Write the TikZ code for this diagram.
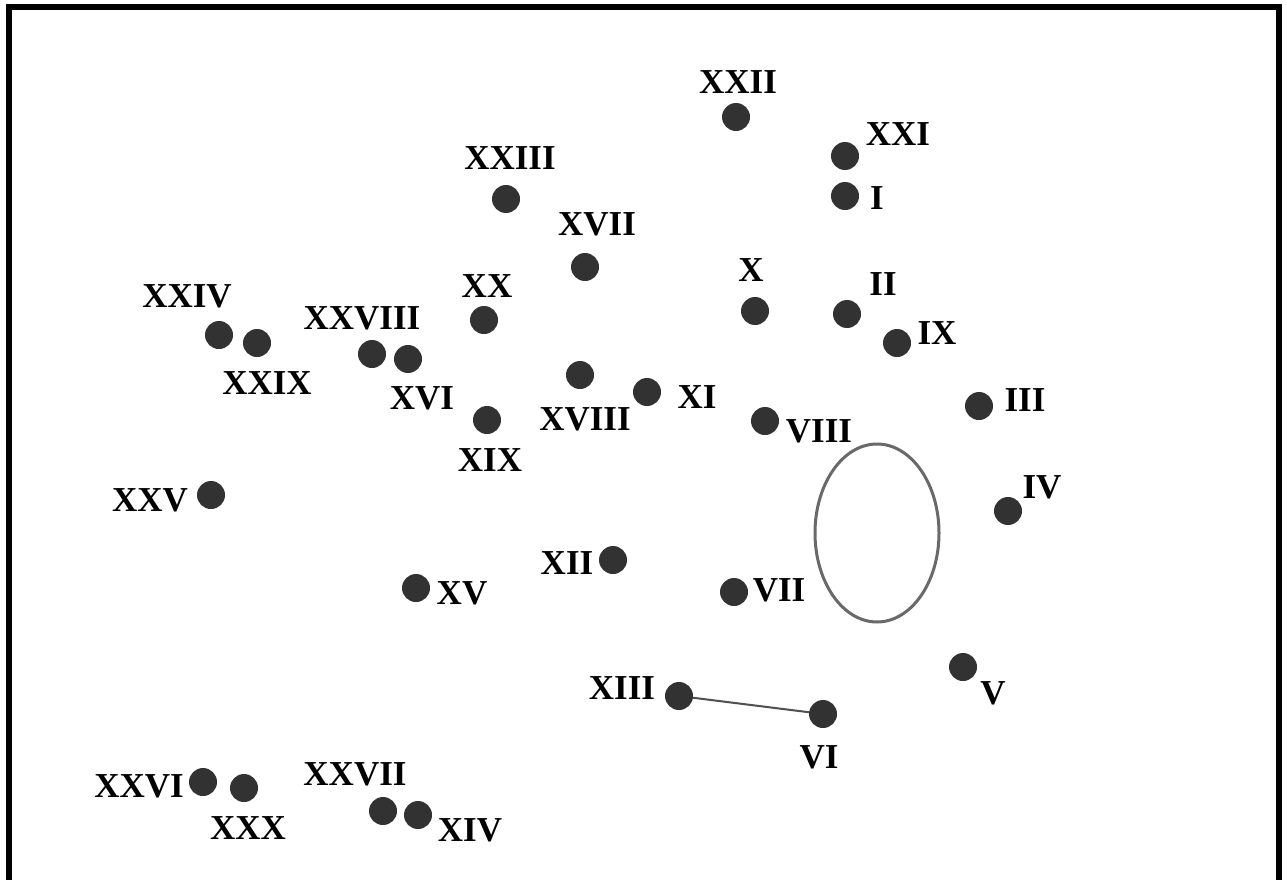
\documentclass[tikz,border=0pt]{standalone}
\usepackage{fontspec}
\setmainfont{Liberation Serif}
\definecolor{dotc}{RGB}{50,50,50}
\definecolor{ellc}{RGB}{105,105,105}
\definecolor{linec}{RGB}{80,80,80}
\tikzset{
  pt/.style={circle,fill=dotc,minimum size=28pt,inner sep=0pt},
  lab/.style={inner sep=0pt,font=\fontsize{35}{40}\selectfont\bfseries},
}
\begin{document}
\begin{tikzpicture}[x=1pt,y=-1pt]
\useasboundingbox (0,0) rectangle (1287,880);
\fill[white] (0,0) rectangle (1287,880);
\draw[line width=6pt,line join=miter] (9,900) -- (9,7.5) -- (1278.5,7.5) -- (1278.5,900);
% dots
\node[pt] (p22) at (736,117) {};
\node[pt] (p21) at (845,156) {};
\node[pt] (p1) at (845,196) {};
\node[pt] (p23) at (506,199) {};
\node[pt] (p17) at (585,267) {};
\node[pt] (p10) at (755,311) {};
\node[pt] (p2) at (847,314) {};
\node[pt] (p9) at (897,343) {};
\node[pt] (p24) at (219,335) {};
\node[pt] (p29) at (257,343) {};
\node[pt] (p28) at (372,354) {};
\node[pt] (p16) at (408,359) {};
\node[pt] (p20) at (484,320) {};
\node[pt] (p18) at (580,375) {};
\node[pt] (p11) at (647,392) {};
\node[pt] (p19) at (487,420) {};
\node[pt] (p8) at (765,421) {};
\node[pt] (p3) at (979,406) {};
\node[pt] (p4) at (1008,511) {};
\node[pt] (p25) at (211,495) {};
\node[pt] (p12) at (613,560) {};
\node[pt] (p15) at (416,588) {};
\node[pt] (p7) at (734,592) {};
\node[pt] (p5) at (963,667) {};
\node[pt] (p13) at (679,696) {};
\node[pt] (p6) at (823,714) {};
\node[pt] (p26) at (203,782) {};
\node[pt] (p30) at (244,788) {};
\node[pt] (p27) at (383,811) {};
\node[pt] (p14) at (418,815) {};
% labels
\node[lab] (l22) at (738,82) {XXII};
\node[lab] (l21) at (898,134) {XXI};
\node[lab] (l1) at (877,198) {I};
\node[lab] (l23) at (510,158) {XXIII};
\node[lab] (l17) at (597,224) {XVII};
\node[lab] (l10) at (751,270) {X};
\node[lab] (l2) at (883,284) {II};
\node[lab] (l9) at (937,333) {IX};
\node[lab] (l24) at (187,296) {XXIV};
\node[lab] (l29) at (267,383) {XXIX};
\node[lab] (l28) at (362,318) {XXVIII};
\node[lab] (l16) at (422,398) {XVI};
\node[lab] (l20) at (487,286) {XX};
\node[lab] (l18) at (585,419) {XVIII};
\node[lab] (l11) at (697,397) {XI};
\node[lab] (l19) at (490,460) {XIX};
\node[lab] (l8) at (819,431) {VIII};
\node[lab] (l3) at (1025,400) {III};
\node[lab] (l4) at (1042,487) {IV};
\node[lab] (l25) at (150,500) {XXV};
\node[lab] (l12) at (567,563) {XII};
\node[lab] (l15) at (462,593) {XV};
\node[lab] (l7) at (779,590) {VII};
\node[lab] (l5) at (993,693) {V};
\node[lab] (l13) at (622,688) {XIII};
\node[lab] (l6) at (819,757) {VI};
\node[lab] (l26) at (139,786) {XXVI};
\node[lab] (l30) at (248,828) {XXX};
\node[lab] (l27) at (355,774) {XXVII};
\node[lab] (l14) at (470,830) {XIV};
% ellipse and connector
\draw[ellc,line width=3pt] (877,533) ellipse [x radius=62, y radius=89];
\draw[linec,line width=2pt] (p13) -- (p6);
\end{tikzpicture}
\end{document}
